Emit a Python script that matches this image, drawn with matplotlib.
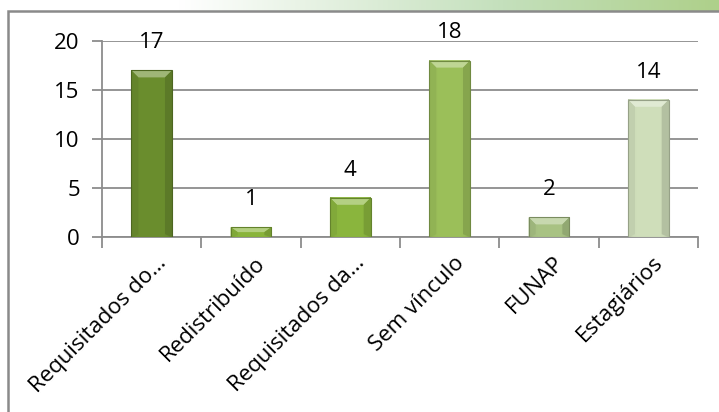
import numpy as np
import matplotlib.pyplot as plt
import matplotlib.transforms as mtransforms
from matplotlib.colors import to_rgb
from matplotlib.patches import Rectangle, Polygon

# data
categories = ['Requisitados do…', 'Redistribuído', 'Requisitados da…',
              'Sem vínculo', 'FUNAP', 'Estagiários']
values = [17, 1, 4, 18, 2, 14]
bar_colors = ['#6b8e2e', '#8ab53c', '#8bb63e', '#9cc05a', '#a9c384', '#d0dfbb']
yticks = [0, 5, 10, 15, 20]

W, H, DPI = 719, 412, 100
FONT = 'Open Sans'
FS = 16


def shade(c, f):
    r = np.array(to_rgb(c))
    return tuple(np.clip(r * f, 0, 1))


def tint(c, f):
    r = np.array(to_rgb(c))
    return tuple(r + (1 - r) * f)


def main():
    fig = plt.figure(figsize=(W / DPI, H / DPI), dpi=DPI)

    # page background: white fading to pale green at the top right
    bg = fig.add_axes([0, 0, 1, 1], zorder=-2)
    bg.set_xlim(0, W)
    bg.set_ylim(H, 0)
    bg.axis('off')
    left = np.array([1.0, 1.0, 1.0])
    right = np.array(to_rgb('#aed08a'))
    mid = np.array(to_rgb('#c4e0bc'))
    t = np.linspace(0, 1, 400)
    grad = np.zeros((1, 400, 3))
    for i, s in enumerate(t):
        if s < 0.25:
            grad[0, i] = left
        elif s < 0.7:
            k = (s - 0.25) / 0.45
            grad[0, i] = left * (1 - k) + mid * k
        else:
            k = (s - 0.7) / 0.3
            grad[0, i] = mid * (1 - k) + right * k
    bg.imshow(grad, extent=[0, W, 12, 0], aspect='auto')
    bg.add_patch(Rectangle((8, 11), W + 20, H + 20, facecolor='white',
                           edgecolor='#8a8a8a', linewidth=1.8))

    # plot area
    x0, x1, ytop, ybot = 102, 698, 41, 237
    ax = fig.add_axes([x0 / W, 1 - ybot / H, (x1 - x0) / W, (ybot - ytop) / H])
    ax.set_facecolor('none')
    n = len(categories)
    xs = np.arange(n)
    ax.set_xlim(-0.5, n - 0.5)
    ax.set_ylim(0, 20)

    gray = '#8c8c8c'
    for side in ['top', 'right']:
        ax.spines[side].set_visible(False)
    for side in ['left', 'bottom']:
        ax.spines[side].set_color(gray)
        ax.spines[side].set_linewidth(1.3)
    ax.set_yticks(yticks)
    ax.set_yticklabels([str(v) for v in yticks], fontfamily=FONT, fontsize=FS)
    ax.yaxis.grid(True, color=gray, linewidth=1.3)
    ax.set_axisbelow(True)
    ax.tick_params(axis='y', direction='out', length=7, color=gray, width=1.3, pad=9)

    ax.set_xticks(np.arange(n + 1) - 0.5)
    ax.set_xticklabels([])
    ax.tick_params(axis='x', which='major', direction='out', length=8, color=gray, width=1.3)
    ax.set_xticks(xs, minor=True)
    ax.set_xticklabels(categories, minor=True, rotation=45, ha='right', va='top',
                       rotation_mode='anchor', fontfamily=FONT, fontsize=FS)
    ax.tick_params(axis='x', which='minor', length=0, pad=11)
    shift = mtransforms.ScaledTranslation(4 / DPI, 0, fig.dpi_scale_trans)
    for lbl in ax.get_xticklabels(minor=True):
        lbl.set_transform(lbl.get_transform() + shift)

    # bars with a bevelled look
    bw = 0.41
    ppx = (x1 - x0) / n          # pixels per x unit
    ppy = (ybot - ytop) / 20.0   # pixels per y unit
    bx = 7 / ppx
    by = 7 / ppy
    ax.bar(xs, values, width=bw, color=bar_colors, edgecolor='none', zorder=2)
    for x, v, c in zip(xs, values, bar_colors):
        l, r = x - bw / 2, x + bw / 2
        prof = np.linspace(-1, 1, 60)
        fac = 1.0 - 0.15 * prof ** 6
        img = np.array([[shade(c, f) for f in fac]])
        ax.imshow(img, extent=[l, r, 0, v], aspect='auto', zorder=3,
                  interpolation='bilinear')
        d = min(by, v / 2)
        ax.add_patch(Polygon([(l, v), (r, v), (r - bx, v - d), (l + bx, v - d)],
                             closed=True, facecolor=tint(c, 0.35), edgecolor='none', zorder=4))
        ax.add_patch(Polygon([(l, v), (l + bx, v - d), (l + bx, d * 0.4), (l, 0)],
                             closed=True, facecolor=shade(c, 0.93), edgecolor='none', zorder=4))
        ax.add_patch(Polygon([(r, v), (r - bx, v - d), (r - bx, d * 0.4), (r, 0)],
                             closed=True, facecolor=shade(c, 0.86), edgecolor='none', zorder=4))
        ax.add_patch(Rectangle((l, 0), bw, v, facecolor='none',
                               edgecolor=shade(c, 0.72), linewidth=0.8, zorder=5))
        ax.annotate(str(v), (x, v), xytext=(0, 20), textcoords='offset points',
                    ha='center', va='center', fontfamily=FONT, fontsize=FS, zorder=6)

    fig.savefig('out.png', dpi=DPI)


if __name__ == '__main__':
    main()
